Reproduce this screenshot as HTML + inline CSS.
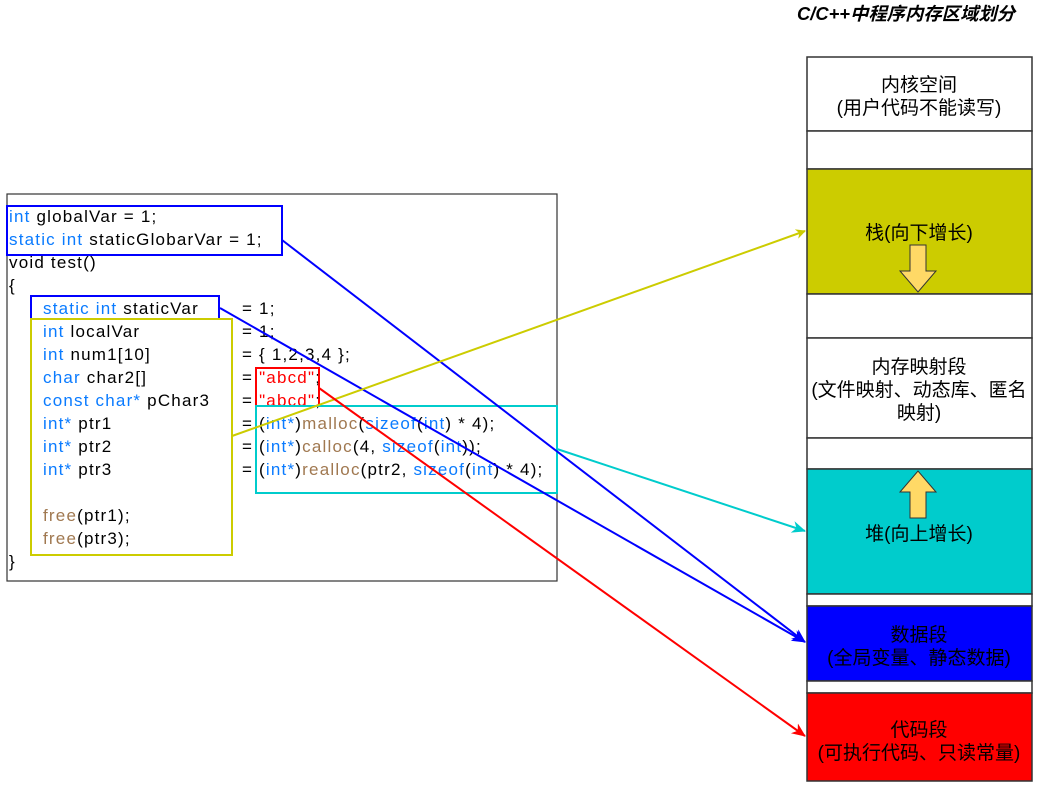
<!DOCTYPE html>
<html><head><meta charset="utf-8"><style>
body{margin:0;background:#fff;}
svg text{font-family:"Liberation Sans","Noto Sans CJK SC",sans-serif;}
.c{font-size:17px;fill:#000;letter-spacing:1.2px;}
.k{fill:#0a7bff;}
.f{fill:#a07850;}
.s{fill:#ff0000;}
</style></head><body>
<svg width="1050" height="799" viewBox="0 0 1050 799" xmlns="http://www.w3.org/2000/svg">
<defs>
<marker id="ay" markerWidth="10" markerHeight="10" refX="9" refY="5" orient="auto" markerUnits="userSpaceOnUse" viewBox="0 0 10 10"><path d="M0,0 L10,5 L0,10 L3,5z" fill="#CCCC00"/></marker>
<marker id="ab" markerWidth="14" markerHeight="14" refX="13" refY="7" orient="auto" markerUnits="userSpaceOnUse" viewBox="0 0 14 14"><path d="M0,1 L14,7 L0,13 L4,7z" fill="#0000ff"/></marker>
<marker id="ac" markerWidth="14" markerHeight="14" refX="13" refY="7" orient="auto" markerUnits="userSpaceOnUse" viewBox="0 0 14 14"><path d="M0,1 L14,7 L0,13 L4,7z" fill="#00CCCC"/></marker>
<marker id="ar" markerWidth="14" markerHeight="14" refX="13" refY="7" orient="auto" markerUnits="userSpaceOnUse" viewBox="0 0 14 14"><path d="M0,1 L14,7 L0,13 L4,7z" fill="#ff0000"/></marker>
</defs>
<text x="797" y="20" font-size="18" font-style="italic" font-weight="bold" textLength="218" lengthAdjust="spacingAndGlyphs">C/C++中程序内存区域划分</text>

<g stroke="#333" stroke-width="1.5">
<rect x="807" y="57" width="225" height="74" fill="#fff"/>
<rect x="807" y="131" width="225" height="38" fill="#fff"/>
<rect x="807" y="169" width="225" height="125" fill="#CCCC00"/>
<rect x="807" y="294" width="225" height="44" fill="#fff"/>
<rect x="807" y="338" width="225" height="100" fill="#fff"/>
<rect x="807" y="438" width="225" height="31" fill="#fff"/>
<rect x="807" y="469" width="225" height="125" fill="#00CCCC"/>
<rect x="807" y="594" width="225" height="12" fill="#fff"/>
<rect x="807" y="606" width="225" height="75" fill="#0000FF"/>
<rect x="807" y="681" width="225" height="12" fill="#fff"/>
<rect x="807" y="693" width="225" height="88" fill="#FF0000"/>
</g>
<g font-size="19" text-anchor="middle" fill="#000">
<text x="919" y="91">内核空间</text>
<text x="919" y="114">(用户代码不能读写)</text>
<text x="919" y="239">栈(向下增长)</text>
<text x="919" y="373">内存映射段</text>
<text x="919" y="396">(文件映射、动态库、匿名</text>
<text x="919" y="419">映射)</text>
<text x="919" y="540">堆(向上增长)</text>
<text x="919" y="641">数据段</text>
<text x="919" y="664">(全局变量、静态数据)</text>
<text x="919" y="736">代码段</text>
<text x="919" y="759">(可执行代码、只读常量)</text>
</g>
<path d="M910,245 H926 V271 H936 L918,292 L900,271 H910Z" fill="#FFD966" stroke="#333"/>
<path d="M910,518 H926 V492 H936 L918,471 L900,492 H910Z" fill="#FFD966" stroke="#333"/>

<rect x="7" y="194" width="550" height="387" fill="#fff" stroke="#333" stroke-width="1.2"/>
<g class="c">
<text x="9" y="222"><tspan class="k">int</tspan> globalVar = 1;</text>
<text x="9" y="245"><tspan class="k">static int</tspan> staticGlobarVar = 1;</text>
<text x="9" y="268">void test()</text>
<text x="9" y="291">{</text>
<text x="43" y="314"><tspan class="k">static int</tspan> staticVar</text><text x="242" y="314">= 1;</text>
<text x="43" y="337"><tspan class="k">int</tspan> localVar</text><text x="242" y="337">= 1;</text>
<text x="43" y="360"><tspan class="k">int</tspan> num1[10]</text><text x="242" y="360">= { 1,2,3,4 };</text>
<text x="43" y="383"><tspan class="k">char</tspan> char2[]</text><text x="242" y="383">= <tspan class="s">"abcd"</tspan>;</text>
<text x="43" y="406"><tspan class="k">const char*</tspan> pChar3</text><text x="242" y="406">= <tspan class="s">"abcd"</tspan>;</text>
<text x="43" y="429"><tspan class="k">int*</tspan> ptr1</text><text x="242" y="429">= (<tspan class="k">int*</tspan>)<tspan class="f">malloc</tspan>(<tspan class="k">sizeof</tspan>(<tspan class="k">int</tspan>) * 4);</text>
<text x="43" y="452"><tspan class="k">int*</tspan> ptr2</text><text x="242" y="452">= (<tspan class="k">int*</tspan>)<tspan class="f">calloc</tspan>(4, <tspan class="k">sizeof</tspan>(<tspan class="k">int</tspan>));</text>
<text x="43" y="475"><tspan class="k">int*</tspan> ptr3</text><text x="242" y="475">= (<tspan class="k">int*</tspan>)<tspan class="f">realloc</tspan>(ptr2, <tspan class="k">sizeof</tspan>(<tspan class="k">int</tspan>) * 4);</text>
<text x="43" y="521"><tspan class="f">free</tspan>(ptr1);</text>
<text x="43" y="544"><tspan class="f">free</tspan>(ptr3);</text>
<text x="9" y="567">}</text>
</g>
<g fill="none" stroke-width="2">
<rect x="7" y="206" width="275" height="49" stroke="#0000ff"/>
<rect x="31" y="296" width="188" height="23" stroke="#0000ff"/>
<rect x="31" y="319" width="201" height="236" stroke="#CCCC00"/>
<rect x="256" y="368" width="63" height="38" stroke="#ff0000"/>
<rect x="256" y="406" width="301" height="87" stroke="#00CCCC"/>
</g>
<g fill="none" stroke-width="2">
<line x1="282" y1="240" x2="805" y2="642" stroke="#0000ff" marker-end="url(#ab)"/>
<line x1="220" y1="308" x2="805" y2="642" stroke="#0000ff" marker-end="url(#ab)"/>
<line x1="232" y1="436" x2="805" y2="231" stroke="#CCCC00" marker-end="url(#ay)"/>
<line x1="557" y1="449" x2="805" y2="531" stroke="#00CCCC" marker-end="url(#ac)"/>
<line x1="319" y1="388" x2="805" y2="736" stroke="#ff0000" marker-end="url(#ar)"/>
</g>
</svg>
</body></html>
